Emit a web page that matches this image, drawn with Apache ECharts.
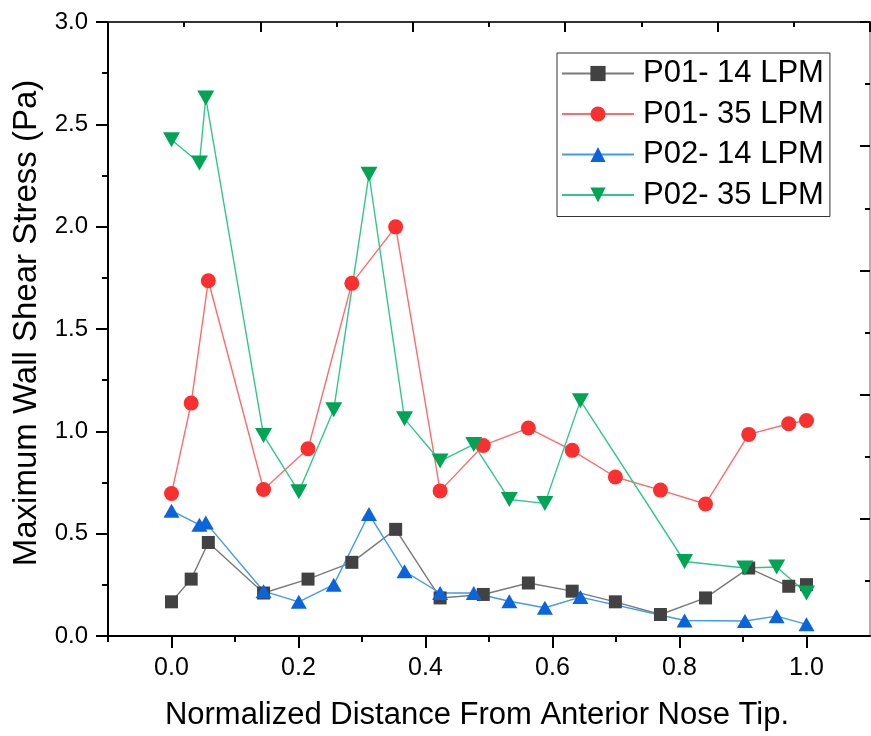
<!DOCTYPE html>
<html>
<head>
<meta charset="utf-8">
<script src="https://cdn.jsdelivr.net/npm/echarts@6/dist/echarts.min.js"></script>
<style>html,body{margin:0;padding:0;background:#fff;}#c{width:871px;height:736px;}</style>
</head>
<body>
<div id="c"></div>
<script>
// Data
var xP01 = [0.000, 0.031, 0.058, 0.145, 0.215, 0.284, 0.353, 0.423, 0.491, 0.562, 0.631, 0.699, 0.770, 0.841, 0.909, 0.972, 1.000];
var yP01_14 = [0.167, 0.278, 0.457, 0.210, 0.278, 0.360, 0.521, 0.186, 0.203, 0.259, 0.219, 0.167, 0.105, 0.186, 0.332, 0.243, 0.251];
var yP01_35 = [0.696, 1.138, 1.736, 0.716, 0.915, 1.723, 1.999, 0.709, 0.931, 1.016, 0.907, 0.777, 0.713, 0.645, 0.985, 1.037, 1.053];
var xP02 = [0.000, 0.044, 0.054, 0.145, 0.2005, 0.2555, 0.311, 0.367, 0.423, 0.476, 0.532, 0.588, 0.644, 0.808, 0.903, 0.953, 1.000];
var yP02_14 = [0.612, 0.543, 0.554, 0.219, 0.167, 0.251, 0.596, 0.316, 0.210, 0.210, 0.170, 0.138, 0.190, 0.076, 0.073, 0.097, 0.057];
var yP02_35 = [2.425, 2.311, 2.629, 0.980, 0.705, 1.105, 2.256, 1.061, 0.855, 0.936, 0.667, 0.648, 1.150, 0.364, 0.332, 0.337, 0.210];
var seriesNames = ['P01- 14 LPM', 'P01- 35 LPM', 'P02- 14 LPM', 'P02- 35 LPM'];
var xTickLabels = [0.0, 0.2, 0.4, 0.6, 0.8, 1.0];
var xMinorTicks = [-0.1, 0.1, 0.3, 0.5, 0.7, 0.9];
var xTitle = 'Normalized Distance From Anterior Nose Tip.';
var yTitle = 'Maximum Wall Shear Stress (Pa)';

function pairs(xs, ys) { return xs.map(function (x, i) { return [x, ys[i]]; }); }

// decorative frame ticks (top and right) as in the original
var topLong = [], topShort = [];
for (var k = 0; k <= 10; k++) { (k % 2 === 0 ? topLong : topShort).push(-0.1 + 0.12 * k); }
var rightLong = [], rightShort = [];
for (var j = 0; j <= 9; j++) { (j % 2 === 0 ? rightLong : rightShort).push(3.0 - 0.3034 * j); }

var FONT = '"Liberation Sans", Arial, Helvetica, sans-serif';
var chart = echarts.init(document.getElementById('c'), null, { renderer: 'canvas' });

var hidden = { show: false };
chart.setOption({
  animation: false,
  backgroundColor: '#ffffff',
  textStyle: { fontFamily: FONT, color: '#000' },
  grid: { left: 108, top: 22, width: 762, height: 618, containLabel: false },
  legend: {
    show: true,
    data: seriesNames,
    left: 557, top: 53,
    orient: 'vertical',
    backgroundColor: '#fff',
    borderColor: '#333', borderWidth: 1,
    padding: [5, 6, 6, 4],
    itemWidth: 72, itemHeight: 19, itemGap: 9.5,
    textStyle: { fontSize: 31, fontFamily: FONT, color: '#000', padding: [0, 0, 0, 4] }
  },
  xAxis: [
    {
      type: 'value', min: -0.1, max: 1.1, position: 'bottom', gridIndex: 0,
      axisLine: { show: true, onZero: false, lineStyle: { color: '#000', width: 2 } },
      axisTick: { show: true, inside: false, length: 12, customValues: xTickLabels, lineStyle: { color: '#000', width: 2 } },
      axisLabel: { show: true, customValues: xTickLabels, fontSize: 25, color: '#000', margin: 20, fontFamily: FONT,
        formatter: function (v) { return v.toFixed(1); } },
      splitLine: hidden,
      name: xTitle, nameLocation: 'middle', nameGap: 64,
      nameTextStyle: { fontSize: 31, color: '#000', fontFamily: FONT, padding: [0, 24, 0, 0] }
    },
    {
      type: 'value', min: -0.1, max: 1.1, position: 'bottom', gridIndex: 0,
      axisLine: { show: false, onZero: false },
      axisTick: { show: true, inside: false, length: 6, customValues: xMinorTicks, lineStyle: { color: '#000', width: 2 } },
      axisLabel: hidden, splitLine: hidden
    },
    {
      type: 'value', min: -0.1, max: 1.1, position: 'top', gridIndex: 0,
      axisLine: { show: true, onZero: false, lineStyle: { color: '#333', width: 2 } },
      axisTick: { show: true, inside: true, length: 10, customValues: topLong, lineStyle: { color: '#000', width: 2 } },
      axisLabel: hidden, splitLine: hidden
    },
    {
      type: 'value', min: -0.1, max: 1.1, position: 'top', gridIndex: 0,
      axisLine: { show: false, onZero: false },
      axisTick: { show: true, inside: true, length: 5, customValues: topShort, lineStyle: { color: '#000', width: 2 } },
      axisLabel: hidden, splitLine: hidden
    }
  ],
  yAxis: [
    {
      type: 'value', min: 0, max: 3, interval: 0.5, position: 'left', gridIndex: 0,
      axisLine: { show: true, onZero: false, lineStyle: { color: '#000', width: 2 } },
      axisTick: { show: true, inside: false, length: 12, lineStyle: { color: '#000', width: 2 } },
      minorTick: { show: true, splitNumber: 2, length: 6, lineStyle: { color: '#000', width: 2 } },
      axisLabel: { show: true, fontSize: 24, color: '#000', margin: 20, fontFamily: FONT,
        formatter: function (v) { return v.toFixed(1); } },
      splitLine: hidden,
      name: yTitle, nameLocation: 'middle', nameGap: 60,
      nameTextStyle: { fontSize: 33, color: '#000', fontFamily: FONT, padding: [0, 0, 0, 12] }
    },
    {
      type: 'value', min: 0, max: 3, position: 'right', gridIndex: 0,
      axisLine: { show: true, onZero: false, lineStyle: { color: '#999', width: 1.5 } },
      axisTick: { show: true, inside: true, length: 10, customValues: rightLong, lineStyle: { color: '#000', width: 2 } },
      axisLabel: hidden, splitLine: hidden
    },
    {
      type: 'value', min: 0, max: 3, position: 'right', gridIndex: 0,
      axisLine: { show: false, onZero: false },
      axisTick: { show: true, inside: true, length: 5, customValues: rightShort, lineStyle: { color: '#000', width: 2 } },
      axisLabel: hidden, splitLine: hidden
    }
  ],
  series: [
    {
      name: seriesNames[0], type: 'line', data: pairs(xP01, yP01_14),
      symbol: 'rect', symbolSize: 13,
      itemStyle: { color: '#424242' }, lineStyle: { color: '#7a7a7a', width: 1.4 }
    },
    {
      name: seriesNames[1], type: 'line', data: pairs(xP01, yP01_35),
      symbol: 'circle', symbolSize: 15,
      itemStyle: { color: '#f83030' }, lineStyle: { color: '#ff6b6b', width: 1.4 }
    },
    {
      name: seriesNames[2], type: 'line', data: pairs(xP02, yP02_14),
      symbol: 'triangle', symbolSize: [16, 14],
      itemStyle: { color: '#0a64dc' }, lineStyle: { color: '#3f9bf0', width: 1.4 }
    },
    {
      name: seriesNames[3], type: 'line', data: pairs(xP02, yP02_35),
      symbol: 'triangle', symbolRotate: 180, symbolSize: [17, 15],
      itemStyle: { color: '#00a455' }, lineStyle: { color: '#2fc88a', width: 1.4 }
    }
  ]
});
</script>
</body>
</html>
